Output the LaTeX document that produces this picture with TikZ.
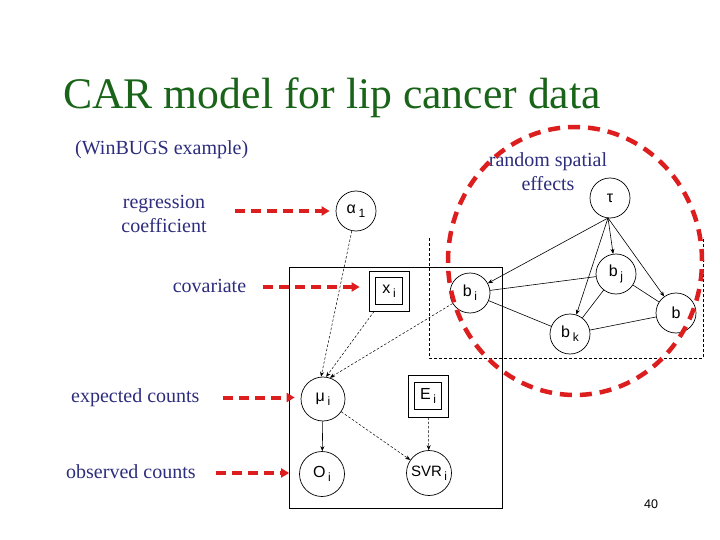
\documentclass[tikz,border=0pt]{standalone}
\usepackage{fontspec}
\setmainfont{Liberation Serif}
\newfontfamily\labfont{Liberation Sans}
\usetikzlibrary{arrows.meta}
\definecolor{titlegreen}{RGB}{25,100,25}
\definecolor{txtblue}{RGB}{45,45,125}
\definecolor{redd}{RGB}{220,30,30}
\newcommand\sbs[1]{\,\raisebox{-0.5ex}{\fontsize{12}{12}\selectfont #1}}
\begin{document}
\begin{tikzpicture}[x=1pt,y=-1pt,
  var/.style={circle,draw,line width=0.7pt,minimum size=40pt,inner sep=0pt,
    font=\labfont\fontsize{16}{16}\selectfont},
  bigvar/.style={var,minimum size=45pt},
  constin/.style={draw,line width=0.7pt,minimum size=27pt,inner sep=0pt,
    font=\labfont\fontsize{16}{16}\selectfont},
  constout/.style={draw,line width=0.7pt,minimum size=40pt,inner sep=0pt},
  plate/.style={draw,line width=1pt},
  spat/.style={draw,line width=0.6pt,dash pattern=on 3pt off 2pt},
  dep/.style={line width=0.5pt,dash pattern=on 2.5pt off 1.8pt,-{Stealth[length=5pt,width=4pt]}},
  sto/.style={line width=0.6pt,-{Stealth[length=5pt,width=4pt]}},
  und/.style={line width=0.6pt},
  lbl/.style={text=txtblue,font=\fontsize{20}{23.5}\selectfont},
  redarrow/.style={draw=redd,line width=4pt,dash pattern=on 10pt off 6pt,
    -{Triangle[length=8pt,width=9pt]}},
  redell/.style={draw=redd,line width=4.5pt,dash pattern=on 12pt off 8pt}]
\useasboundingbox[fill=white] (0,0) rectangle (720,540);

% title and labels
\node[anchor=base west,inner sep=0pt,text=titlegreen,font=\fontsize{43.7}{44}\selectfont] (title) at (63,109) {CAR model for lip cancer data};
\node[lbl,anchor=base west,inner sep=0pt] (win) at (75,155) {(WinBUGS example)};
\node[lbl,align=center,inner sep=0pt] (reg) at (164,214) {regression\\coefficient};
\node[lbl,anchor=base,inner sep=0pt] (cov) at (209.5,292) {covariate};
\node[lbl,anchor=base west,inner sep=0pt] (exp) at (71,402) {expected counts};
\node[lbl,anchor=base west,inner sep=0pt] (obs) at (66,478) {observed counts};
\node[lbl,align=center,inner sep=0pt] (rse) at (548,171.7) {random spatial\\effects};
\node[anchor=center,inner sep=0pt,font=\labfont\fontsize{12.5}{12.5}\selectfont] (pg) at (651,504) {40};

% plate and spatial box
\node[plate,minimum width=213pt,minimum height=241pt,inner sep=0pt] (platebox) at (395.5,387.5) {};
\coordinate (s1) at (429,238);
\coordinate (s2) at (429,358);
\coordinate (s3) at (703,358);
\coordinate (s4) at (703,237);
\draw[spat] (s1) -- (s2) -- (s3) -- (s4);

% nodes
\node[var] (alpha) at (356,211) {α\sbs{1}};
\node[constin] (x) at (389,291) {x\sbs{i}};
\node[constout] (xo) at (389,291) {};
\node[var] (bi) at (470,293) {b\sbs{i}};
\node[var] (tau) at (610,198) {τ};
\node[var] (bj) at (616,274) {b\sbs{j}};
\node[var] (b) at (676,313) {b};
\node[var] (bk) at (570,334) {b\sbs{k}};
\node[bigvar,minimum size=44pt] (mu) at (323,399) {μ\sbs{i}};
\node[constin] (E) at (428,396) {E\sbs{i}};
\node[constout,minimum height=42pt] (Eo) at (428,396) {};
\node[bigvar] (O) at (322,474) {O\sbs{i}};
\node[bigvar,font=\labfont\fontsize{15}{15}\selectfont] (SVR) at (429,473) {SVR\sbs{i}};

% edges
\draw[dep] (alpha) -- (mu.95);
\draw[dep] (xo) -- (mu.82);
\draw[dep] (bi) -- (mu.72);
\draw[sto] (mu) -- (O);
\draw[dep] (mu) -- (SVR);
\draw[dep] (Eo) -- (SVR);
\coordinate (tb) at (608,218);
\draw[sto] (tb) -- (bi);
\draw[sto] (tb) -- (bj);
\draw[sto] (tb) -- (bk);
\draw[sto] (tb) -- (b);
\draw[und] (bi) -- (bj);
\draw[und] (bi) -- (bk);
\draw[und] (bj) -- (bk);
\draw[und] (bj) -- (b);
\draw[und] (bk) -- (b);

% red annotations
\coordinate (r1) at (235,211);
\coordinate (r2) at (263,287);
\coordinate (r3) at (223,397.5);
\coordinate (r4) at (216,473);
\draw[redarrow,shorten >=6pt] (r1) -- (alpha);
\draw[redarrow,shorten >=9pt] (r2) -- (r2 -| xo.west);
\draw[redarrow,shorten >=6pt] (r3) -- (r3 -| mu.west);
\draw[redarrow,shorten >=10pt] (r4) -- (r4 -| O.west);
\coordinate (ec) at (575,261);
\draw[redell] (ec) ellipse [x radius=127pt,y radius=134pt];
\end{tikzpicture}
\end{document}
